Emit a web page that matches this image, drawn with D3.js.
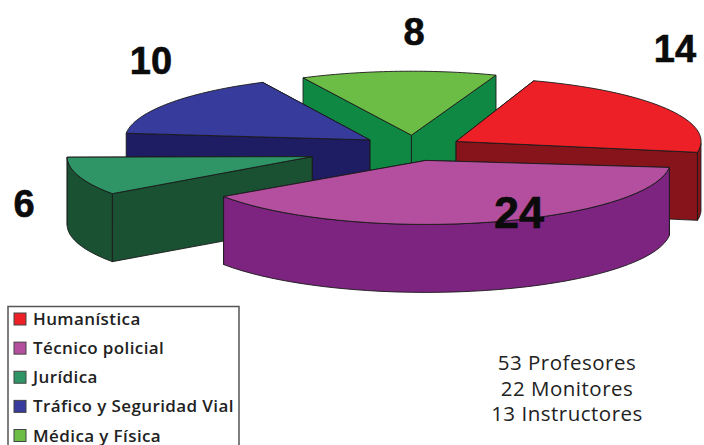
<!DOCTYPE html>
<html><head><meta charset="utf-8">
<script src="https://cdn.jsdelivr.net/npm/d3@7"></script>
<style>html,body{margin:0;padding:0;background:#fff;overflow:hidden}svg{display:block}</style>
</head><body><svg id="c" width="704" height="445"></svg>
<script>
const categories = ["Humanística","Técnico policial","Jurídica","Tráfico y Seguridad Vial","Médica y Física"];
const values = [14,24,6,10,8];
const explode = [0.2,0.2,0.437,0.22,0.2];
const nudgeDeg = [-0.5,-4,-5,1.5,1.2];
const topColors = ["#ee2027","#b44f9f","#2f9567","#373b9b","#6cbd45"];
const sideColors = ["#87141a","#7c2480","#1b5133","#1e1c63","#0f8843"];
const notes = ["53 Profesores","22 Monitores","13 Instructores"];
const drawOrder = [4,3,0,2,1];
const labelPos = [[675,62,38],[519,228,45],[24,217,38],[151,74,38],[414,45,38]];

const W=704,H=445,cx=414,cy=148,Rx=245,Ry=64,depth=68;
const svg=d3.select("#c");
const startDeg=19;
const pie=d3.pie().sort(null).startAngle(startDeg*Math.PI/180).endAngle((startDeg+360)*Math.PI/180);
const arcs=pie(values).map((d,i)=>{const n=nudgeDeg[i]*Math.PI/180;return {startAngle:d.startAngle+n,endAngle:d.endAngle+n};});
const line=d3.line();
const STROKE="#1a1a1a";

function project(a,r,ox,oy,dz){return [ox+r*Rx*Math.sin(a),oy-r*Ry*Math.cos(a)+dz];}
drawOrder.forEach(i=>{
  const d=arcs[i];
  const mid=(d.startAngle+d.endAngle)/2;
  const [ox,oy]=project(mid,explode[i],cx,cy,0);
  const n=40;
  const angles=d3.range(n+1).map(k=>d.startAngle+(d.endAngle-d.startAngle)*k/n);
  const rim=angles.map(a=>project(a,1,ox,oy,0));
  const frontRim=angles.filter(a=>Math.cos(a)<0).map(a=>project(a,1,ox,oy,0));
  const apex=[ox,oy];
  const drop=p=>[p[0],p[1]+depth];
  const cutA=[apex,rim[0],drop(rim[0]),drop(apex)];
  const cutB=[apex,rim[n],drop(rim[n]),drop(apex)];
  const faces=[{f:cutA,y:(apex[1]+rim[0][1])/2},{f:cutB,y:(apex[1]+rim[n][1])/2}];
  if(frontRim.length>1) faces.push({f:frontRim.concat(frontRim.slice().reverse().map(drop)),y:d3.mean(frontRim,p=>p[1])});
  const g=svg.append("g");
  faces.sort((a,b)=>a.y-b.y).forEach(o=>{
    g.append("path").attr("d",line(o.f)+"Z").attr("fill",sideColors[i]).attr("stroke",STROKE).attr("stroke-width",0.9).attr("stroke-linejoin","round");
  });
  g.append("path").attr("d",line([apex].concat(rim))+"Z").attr("fill",topColors[i]).attr("stroke",STROKE).attr("stroke-width",0.9).attr("stroke-linejoin","round");
});

svg.selectAll("text.big").data(values).join("text").attr("class","big")
  .attr("x",(d,i)=>labelPos[i][0]).attr("y",(d,i)=>labelPos[i][1])
  .attr("text-anchor","middle").attr("font-family","Liberation Sans").attr("font-weight","700")
  .attr("font-size",(d,i)=>labelPos[i][2]).attr("fill","#0b0b0b").attr("stroke","#0b0b0b").attr("stroke-width",0.6).text(d=>d);

svg.append("rect").attr("x",8).attr("y",306.5).attr("width",231).attr("height",160)
  .attr("fill","#fff").attr("stroke","#555").attr("stroke-width",1.5);
const rowY=d3.scalePoint().domain(categories).range([319,435.5]);
const lg=svg.selectAll("g.leg").data(categories).join("g").attr("class","leg");
lg.append("rect").attr("x",14).attr("y",d=>rowY(d)-6).attr("width",12).attr("height",12)
  .attr("fill",(d,i)=>topColors[i]).attr("stroke","#444").attr("stroke-width",1);
lg.append("text").attr("x",33).attr("y",d=>rowY(d)+6).attr("font-family","Open Sans").attr("font-weight","600")
  .attr("font-size",17).attr("letter-spacing",0.4).attr("fill","#222").text(d=>d);

svg.selectAll("text.note").data(notes).join("text").attr("class","note")
  .attr("x",567).attr("y",(d,i)=>370+i*25.5).attr("text-anchor","middle")
  .attr("font-family","Open Sans").attr("font-weight","500").attr("font-size",20.5).attr("letter-spacing",0.5).attr("fill","#222").text(d=>d);
</script></body></html>
